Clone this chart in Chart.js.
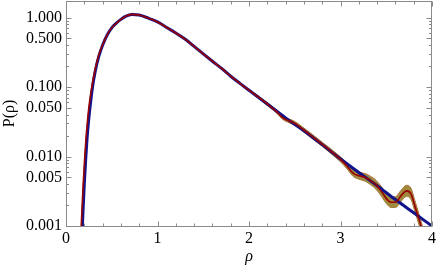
<!DOCTYPE html>
<html><head><meta charset="utf-8">
<script src="https://cdn.jsdelivr.net/npm/chart.js@4/dist/chart.umd.min.js"></script>
<style>html,body{margin:0;padding:0;background:#fff;}canvas{display:block;}</style>
</head><body>
<canvas id="c" width="436" height="271"></canvas>
<script>
// Theory curve (blue)
const theoryRho = [0.17,0.18,0.19,0.20,0.215,0.23,0.25,0.27,0.29,0.32,0.36,0.40,0.45,0.50,0.55,0.60,0.65,0.72,0.80,0.90,1.00,1.10,1.20,1.30,1.40,1.50,1.60,1.70,1.80,1.90,2.00,2.20,2.40,2.60,2.80,3.00,3.20,3.40,3.60,3.80,4.00];
const theoryP   = [0.0005,0.0011,0.0021,0.0040,0.0090,0.018,0.036,0.062,0.10,0.17,0.28,0.40,0.56,0.71,0.83,0.94,1.04,1.11,1.085,0.98,0.865,0.72,0.60,0.49,0.385,0.30,0.235,0.185,0.143,0.113,0.090,0.057,0.036,0.0235,0.0148,0.0092,0.0059,0.0038,0.0024,0.00155,0.00100];

// Measured curve (dark red)
const dataRho = [0.16,0.168,0.178,0.188,0.203,0.218,0.238,0.258,0.282,0.315,0.355,0.40,0.45,0.50,0.55,0.60,0.65,0.72,0.80,0.90,1.00,1.10,1.20,1.30,1.40,1.50,1.60,1.70,1.80,1.90,2.00,2.10,2.20,2.30,2.37,2.44,2.50,2.60,2.70,2.80,2.90,3.00,3.07,3.14,3.20,3.27,3.33,3.39,3.45,3.50,3.55,3.60,3.66,3.72,3.77,3.82,3.87,3.92];
const dataP   = [0.0005,0.0011,0.0021,0.0040,0.0090,0.018,0.036,0.062,0.10,0.17,0.28,0.405,0.565,0.71,0.83,0.94,1.04,1.11,1.085,0.98,0.865,0.72,0.60,0.49,0.385,0.30,0.235,0.185,0.143,0.113,0.090,0.072,0.057,0.0445,0.0360,0.0325,0.0300,0.0240,0.0190,0.0150,0.0118,0.0091,0.0073,0.0057,0.0053,0.0050,0.0045,0.0039,0.0031,0.0025,0.0022,0.0022,0.0027,0.0032,0.0029,0.0018,0.0011,0.00062];

// Uncertainty band of the measured curve
const bandRho  = [2.00,2.10,2.20,2.30,2.37,2.44,2.50,2.60,2.70,2.80,2.90,3.00,3.07,3.14,3.20,3.27,3.33,3.39,3.45,3.50,3.55,3.60,3.66,3.72,3.77,3.82,3.87,3.92];
const bandHigh = [0.0925,0.0747,0.0597,0.0469,0.0381,0.0346,0.0320,0.0257,0.0204,0.0161,0.0127,0.00989,0.00800,0.00632,0.00595,0.00568,0.00517,0.00453,0.00364,0.00296,0.00262,0.00263,0.00324,0.00385,0.00349,0.00216,0.00132,0.000745];
const bandLow  = [0.0876,0.0694,0.0544,0.0422,0.0340,0.0305,0.0281,0.0224,0.0177,0.0140,0.0109,0.00838,0.00666,0.00514,0.00472,0.00441,0.00392,0.00336,0.00264,0.00211,0.00185,0.00184,0.00225,0.00266,0.00241,0.00150,0.00092,0.000516];

// Axis ticks
const xTicks = [0,1,2,3,4];
const xMinorTicks = [0.2,0.4,0.6,0.8,1.2,1.4,1.6,1.8,2.2,2.4,2.6,2.8,3.2,3.4,3.6,3.8];
const yTicks = [0.001,0.005,0.01,0.05,0.1,0.5,1];
const yTickLabels = ['0.001','0.005','0.010','0.050','0.100','0.500','1.000'];
const yMinorTicks = [0.002,0.003,0.004,0.006,0.007,0.008,0.009,0.02,0.03,0.04,0.06,0.07,0.08,0.09,0.2,0.3,0.4,0.6,0.7,0.8,0.9];

const pts = (xs, ys) => xs.map((v, i) => ({x: v, y: ys[i]}));
const SERIF = "'Liberation Serif', 'DejaVu Serif', serif";

const framePlugin = {
  id: 'frame',
  afterDraw(chart) {
    const {ctx, chartArea: a, scales: {x, y}} = chart;
    ctx.save();
    ctx.strokeStyle = '#8a8a8a';
    ctx.lineWidth = 1;
    const L = a.left + 0.5, R = a.right - 0.5, T = a.top + 0.5, B = a.bottom + 0.5;
    ctx.strokeRect(L, T, R - L, B - T);
    ctx.beginPath();
    const xt = (v, len) => {
      const p = Math.round(x.getPixelForValue(v)) + 0.5;
      ctx.moveTo(p, B); ctx.lineTo(p, B - len);
      ctx.moveTo(p, T); ctx.lineTo(p, T + len);
    };
    const yt = (v, len) => {
      const p = Math.round(y.getPixelForValue(v)) + 0.5;
      ctx.moveTo(L, p); ctx.lineTo(L + len, p);
      ctx.moveTo(R, p); ctx.lineTo(R - len, p);
    };
    xTicks.forEach(v => xt(v, 5));
    xMinorTicks.forEach(v => xt(v, 3));
    yTicks.forEach(v => yt(v, 5));
    yMinorTicks.forEach(v => yt(v, 2.5));
    ctx.stroke();
    ctx.restore();
  }
};

const lineBase = {showLine: true, pointRadius: 0, cubicInterpolationMode: 'monotone', clip: 0, fill: false};
const noPad = s => { s.paddingTop = 0; s.paddingBottom = 0; s.paddingLeft = 0; s.paddingRight = 0; };

new Chart(document.getElementById('c'), {
  type: 'scatter',
  data: {
    datasets: [
      Object.assign({}, lineBase, {data: pts(dataRho, dataP), borderColor: '#990000', borderWidth: 1.6}),
      Object.assign({}, lineBase, {data: pts(theoryRho, theoryP), borderColor: '#12128c', borderWidth: 3}),
      Object.assign({}, lineBase, {data: pts(bandRho, bandHigh), borderColor: '#a9703e', borderWidth: 1, backgroundColor: '#9f8b3b', fill: '+1'}),
      Object.assign({}, lineBase, {data: pts(bandRho, bandLow), borderColor: '#a9703e', borderWidth: 1})
    ]
  },
  options: {
    responsive: false,
    animation: false,
    layout: {padding: {top: 1, right: 4, left: 0, bottom: 0}},
    plugins: {legend: {display: false}, tooltip: {enabled: false}},
    scales: {
      x: {
        type: 'linear', min: 0, max: 4,
        afterBuildTicks: s => { s.ticks = xTicks.map(v => ({value: v})); },
        afterFit: s => { s.height = 45; noPad(s); },
        grid: {display: false, drawTicks: false}, border: {display: false},
        ticks: {color: '#000', font: {family: SERIF, size: 16}, padding: 3, maxRotation: 0, autoSkip: false, callback: v => String(v)},
        title: {display: true, text: 'ρ', color: '#000', font: {family: SERIF, size: 16, style: 'italic'}, padding: {top: 0, bottom: 5}}
      },
      y: {
        type: 'logarithmic', min: 0.001, max: 1.73,
        afterBuildTicks: s => { s.ticks = yTicks.map(v => ({value: v})); },
        afterFit: s => { s.width = 66; noPad(s); },
        grid: {display: false, drawTicks: false}, border: {display: false},
        ticks: {color: '#000', font: {family: SERIF, size: 16}, padding: 4, autoSkip: false,
          callback: v => { const i = yTicks.findIndex(t => Math.abs(t - v) < t * 1e-6); return i >= 0 ? yTickLabels[i] : ''; }},
        title: {display: true, text: 'P(ρ)', color: '#000', font: {family: SERIF, size: 16}, padding: 0}
      }
    }
  },
  plugins: [framePlugin]
});
</script>
</body></html>
